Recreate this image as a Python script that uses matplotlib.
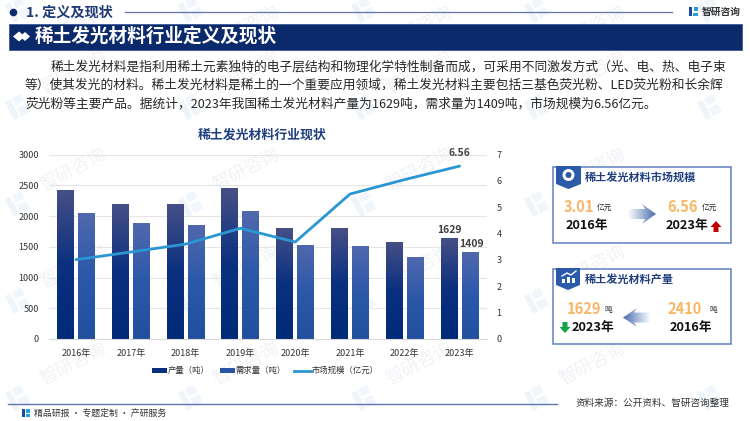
import matplotlib
matplotlib.use("Agg")
import matplotlib.pyplot as plt
from matplotlib.patches import Rectangle, Polygon, Circle
from matplotlib.lines import Line2D
import numpy as np

plt.rcParams['font.family'] = ['Noto Sans CJK SC', 'DejaVu Sans']

years = ['2016年', '2017年', '2018年', '2019年', '2020年', '2021年', '2022年', '2023年']
production = [2410, 2195, 2195, 2445, 1789, 1789, 1566, 1629]
demand = [2043, 1870, 1853, 2081, 1517, 1507, 1333, 1409]
market = [3.01, 3.3, 3.6, 4.2, 3.68, 5.5, 6.05, 6.56]
left_ticks = [0, 500, 1000, 1500, 2000, 2500, 3000]
right_ticks = [0, 1, 2, 3, 4, 5, 6, 7]

body_lines = [
    "稀土发光材料是指利用稀土元素独特的电子层结构和物理化学特性制备而成，可采用不同激发方式（光、电、热、电子束",
    "等）使其发光的材料。稀土发光材料是稀土的一个重要应用领域，稀土发光材料主要包括三基色荧光粉、LED荧光粉和长余辉",
    "荧光粉等主要产品。据统计，2023年我国稀土发光材料产量为1629吨，需求量为1409吨，市场规模为6.56亿元。",
]

NAVY = '#0b2a6b'
W, H = 750, 421
fig = plt.figure(figsize=(W / 100, H / 100), dpi=100)

# page layer in pixel coordinates
page = fig.add_axes([0, 0, 1, 1])
page.set_xlim(0, W)
page.set_ylim(H, 0)
page.axis('off')


def hgrad(ax, x0, x1, y0, y1, c0, c1, clip):
    g = np.linspace(0, 1, 64)[None, :, None]
    rgb = np.array(matplotlib.colors.to_rgb(c0)) * (1 - g) + np.array(matplotlib.colors.to_rgb(c1)) * g
    im = ax.imshow(rgb, extent=[x0, x1, y1, y0], aspect='auto', zorder=3)
    im.set_clip_path(clip)
    ax.set_xlim(0, W)
    ax.set_ylim(H, 0)


def wm_logo(xx, yy):
    # faded company mark, tilted
    s = np.radians(-28)
    for px, py, w, h, c in [(-9, -9, 6, 20, '#eff4f9'), (-1, -9, 10, 8, '#f0f6fb'), (-1, 2, 10, 9, '#f0f6fb')]:
        pts = [(px, py), (px + w, py), (px + w, py + h), (px, py + h)]
        pts = [(xx + a * np.cos(s) - b * np.sin(s), yy + a * np.sin(s) + b * np.cos(s)) for a, b in pts]
        page.add_patch(Polygon(pts, fc=c, ec='none', zorder=0))


# watermark
for yy in [9, 106, 203, 300, 397]:
    for col in range(5):
        xx = 17 + col * 173
        wm_logo(xx, yy)
        tx, ty = xx + 56, yy - 33
        if ty < 28:
            ty = 28
        if col < 4:
            page.text(tx, ty, '智研咨询', fontsize=13, color='#f0f2f6', rotation=28,
                      ha='center', va='center', zorder=0)

# top heading
page.add_patch(Circle((13.5, 12.5), 3.8, fc=NAVY, ec='none'))
page.text(26, 12.5, '1. 定义及现状', fontsize=10.2, fontweight='bold', color='#1f3a75', va='center')
page.add_line(Line2D([125, 672], [11.5, 11.5], color='#5f76ad', lw=0.9))
page.add_patch(Rectangle((689, 7), 3, 9, fc='#1b4c9c', ec='none'))
page.add_patch(Rectangle((694, 7), 4, 4, fc='#28a0dc', ec='none'))
page.add_patch(Rectangle((693, 13), 5, 3, fc='#28a0dc', ec='none'))
page.text(702, 11.5, '智研咨询', fontsize=7, fontweight='bold', color='#333333', va='center')

# title band
page.add_patch(Rectangle((9, 23.5), 732.5, 26, fc=NAVY, ec='#3a5795', lw=0.6, zorder=2))
page.add_patch(Polygon([(13, 36.5), (19, 31.5), (25, 36.5), (19, 41.5)], fc='white', ec='none', zorder=3))
page.add_patch(Polygon([(20, 36.5), (25, 32), (30, 36.5), (25, 41)], fc='white', ec='none', zorder=3))
page.text(35, 36, '稀土发光材料行业定义及现状', fontsize=13.4, fontweight='bold', color='white', va='center', zorder=3)

# body text
page.text(51, 66.5, body_lines[0], fontsize=9.15, color='#262626', va='center')
page.text(25, 85, body_lines[1], fontsize=9.15, color='#262626', va='center')
page.text(25, 104, body_lines[2], fontsize=9.15, color='#262626', va='center')

# chart
page.text(262, 135, '稀土发光材料行业现状', fontsize=9.3, fontweight='bold', color='#1f3f80',
          ha='center', va='center')

ax = fig.add_axes([48.6 / W, 1 - 339 / H, 438.4 / W, 184.5 / H])
ax.patch.set_alpha(0)
x = np.arange(len(years))
bw = 0.31
bars_a = ax.bar(x - 0.19, production, bw, color='#0b2f7e', zorder=2)
bars_b = ax.bar(x + 0.19, demand, bw, color='#2a55a5', zorder=2)


def shade(bars, top, mid, bottom):
    for b in bars:
        t = np.linspace(0, 1, 64)[:, None, None]
        c0, c1, c2 = [np.array(matplotlib.colors.to_rgb(c)) for c in (top, mid, bottom)]
        rgb = np.where(t < 0.5, c0 * (1 - t * 2) + c1 * t * 2, c1 * (2 - t * 2) + c2 * (t * 2 - 1))
        ax.imshow(rgb, extent=[b.get_x(), b.get_x() + b.get_width(), 0, b.get_height()],
                  aspect='auto', zorder=2.5)


shade(bars_a, '#454f86', '#0b3080', '#002a78')
shade(bars_b, '#5068ad', '#2c58aa', '#224f9e')
ax.set_xlim(-0.5, len(years) - 0.5)
ax.set_ylim(0, 3000)

ax.set_yticks(left_ticks)
ax.set_xticks(x, years)
ax.grid(axis='y', color='#e6e6e6', lw=0.8, zorder=0)
ax.set_axisbelow(True)
ax.tick_params(axis='both', length=0, labelsize=6.5, labelcolor='#333333')
ax.tick_params(axis='x', pad=7)
ax.tick_params(axis='y', pad=7)
for s in ['top', 'left', 'right']:
    ax.spines[s].set_visible(False)
ax.spines['bottom'].set_color('#d9d9d9')

ax2 = ax.twinx()
ax2.plot(x, market, color='#2a96d2', lw=2, zorder=5, solid_capstyle='round')
ax2.set_ylim(0, 7)
ax2.set_yticks(right_ticks)
ax2.tick_params(axis='y', length=0, labelsize=6.5, labelcolor='#333333', pad=7)
for s in ax2.spines.values():
    s.set_visible(False)

ax.text(x[-1] - 0.19, production[-1] + 70, str(production[-1]), fontsize=7.5, fontweight='bold',
        color='#404040', ha='center', va='bottom')
ax.text(x[-1] + 0.22, demand[-1] + 55, str(demand[-1]), fontsize=7.5, fontweight='bold',
        color='#404040', ha='center', va='bottom')
ax2.text(x[-1], market[-1] + 0.3, '%.2f' % market[-1], fontsize=7.5, fontweight='bold',
         color='#404040', ha='center', va='bottom')

# legend
page.add_patch(Rectangle((151.5, 368), 15, 4.5, fc='#0b2f7e', ec='none'))
page.text(167.5, 370.5, '产量（吨）', fontsize=6, color='#333333', va='center')
page.add_patch(Rectangle((220, 368), 15, 4.5, fc='#2a55a5', ec='none'))
page.text(236, 370.5, '需求量（吨）', fontsize=6, color='#333333', va='center')
page.add_line(Line2D([294, 311], [370.5, 370.5], color='#2a96d2', lw=2))
page.text(312, 370.5, '市场规模（亿元）', fontsize=6, color='#333333', va='center')

# right cards
for top, bottom in [(167, 242.5), (269, 344)]:
    page.add_patch(Rectangle((552.5, top), 178, bottom - top, fc='white', ec='#5f80bd', lw=1.1, zorder=1))
orange = '#f9b664'
page.add_patch(Polygon([(556, 166), (581, 166), (581, 184), (568.5, 189), (556, 184)], fc='#2a5aa8', ec='none', zorder=2))
page.add_patch(Circle((568.5, 175), 6, fc='white', ec='none', zorder=3))
page.add_patch(Circle((568.5, 175), 3, fc='#2a5aa8', ec='none', zorder=4))
page.text(585, 177, '稀土发光材料市场规模', fontsize=8, fontweight='bold', color='#1f3f80', va='center', zorder=3)
page.text(578.5, 207.5, '3.01', fontsize=10.5, fontweight='bold', color=orange, ha='center', va='center', zorder=3)
page.text(604, 208, '亿元', fontsize=5.5, color='#222222', ha='center', va='center', zorder=3)
page.text(587, 225.5, '2016年', fontsize=9.2, fontweight='bold', color='#111111', ha='center', va='center', zorder=3)
page.text(682.5, 207.5, '6.56', fontsize=10.5, fontweight='bold', color=orange, ha='center', va='center', zorder=3)
page.text(709, 208, '亿元', fontsize=5.5, color='#222222', ha='center', va='center', zorder=3)
page.text(687, 225.5, '2023年', fontsize=9.2, fontweight='bold', color='#111111', ha='center', va='center', zorder=3)
page.add_patch(Polygon([(710.5, 227), (716, 221), (721.5, 227), (718.5, 227), (718.5, 232), (713.5, 232), (713.5, 227)],
                       fc='#c00000', ec='none', zorder=3))

page.add_patch(Polygon([(556, 268), (580, 268), (580, 285), (568, 290), (556, 285)], fc='#2a5aa8', ec='none', zorder=2))
for bx, bh in [(562, 4), (567, 6), (572, 5)]:
    page.add_patch(Rectangle((bx, 283 - bh), 3, bh, fc='white', ec='none', zorder=3))
page.add_line(Line2D([562, 567, 571, 576], [276, 273, 275, 271], color='white', lw=1, zorder=3))
page.text(585, 279, '稀土发光材料产量', fontsize=8, fontweight='bold', color='#1f3f80', va='center', zorder=3)
page.text(583.5, 309.5, '1629', fontsize=10.5, fontweight='bold', color=orange, ha='center', va='center', zorder=3)
page.text(608, 310, '吨', fontsize=5.5, color='#222222', ha='center', va='center', zorder=3)
page.text(593, 328, '2023年', fontsize=9.2, fontweight='bold', color='#111111', ha='center', va='center', zorder=3)
page.text(685, 309.5, '2410', fontsize=10.5, fontweight='bold', color=orange, ha='center', va='center', zorder=3)
page.text(713, 310, '吨', fontsize=5.5, color='#222222', ha='center', va='center', zorder=3)
page.text(690.5, 328, '2016年', fontsize=9.2, fontweight='bold', color='#111111', ha='center', va='center', zorder=3)
page.add_patch(Polygon([(562.5, 322), (567.5, 322), (567.5, 327), (570.5, 327), (565, 333), (559.5, 327), (562.5, 327)],
                       fc='#12a34a', ec='none', zorder=3))

# gradient arrows
arrow_r = Polygon([(628, 209), (645, 209), (642, 204), (656, 214), (642, 224), (645, 219), (628, 219)],
                  transform=page.transData, fc='none', ec='none')
page.add_patch(arrow_r)
hgrad(page, 628, 656, 204, 224, '#ffffff', '#4a6eb0', arrow_r)
arrow_l = Polygon([(651, 312.5), (634, 312.5), (637, 308), (623, 317.5), (637, 327), (634, 322.5), (651, 322.5)],
                  transform=page.transData, fc='none', ec='none')
page.add_patch(arrow_l)
hgrad(page, 623, 651, 308, 327, '#4a6eb0', '#ffffff', arrow_l)

# footer
page.add_line(Line2D([8, 557], [403.5, 403.5], color='#5f76ad', lw=1))
page.add_patch(Rectangle((22, 409), 3, 8, fc='#1b4c9c', ec='none', zorder=3))
page.add_patch(Rectangle((26, 409), 4, 3.5, fc='#28a0dc', ec='none', zorder=3))
page.add_patch(Rectangle((26, 414), 4, 3, fc='#28a0dc', ec='none', zorder=3))
page.text(34, 413, '精品研报 · 专题定制 · 产研服务', fontsize=6.4, color='#333333', va='center')
page.text(576, 403, '资料来源：公开资料、智研咨询整理', fontsize=6.9, color='#333333', va='center')

fig.savefig('out.png', dpi=100)
